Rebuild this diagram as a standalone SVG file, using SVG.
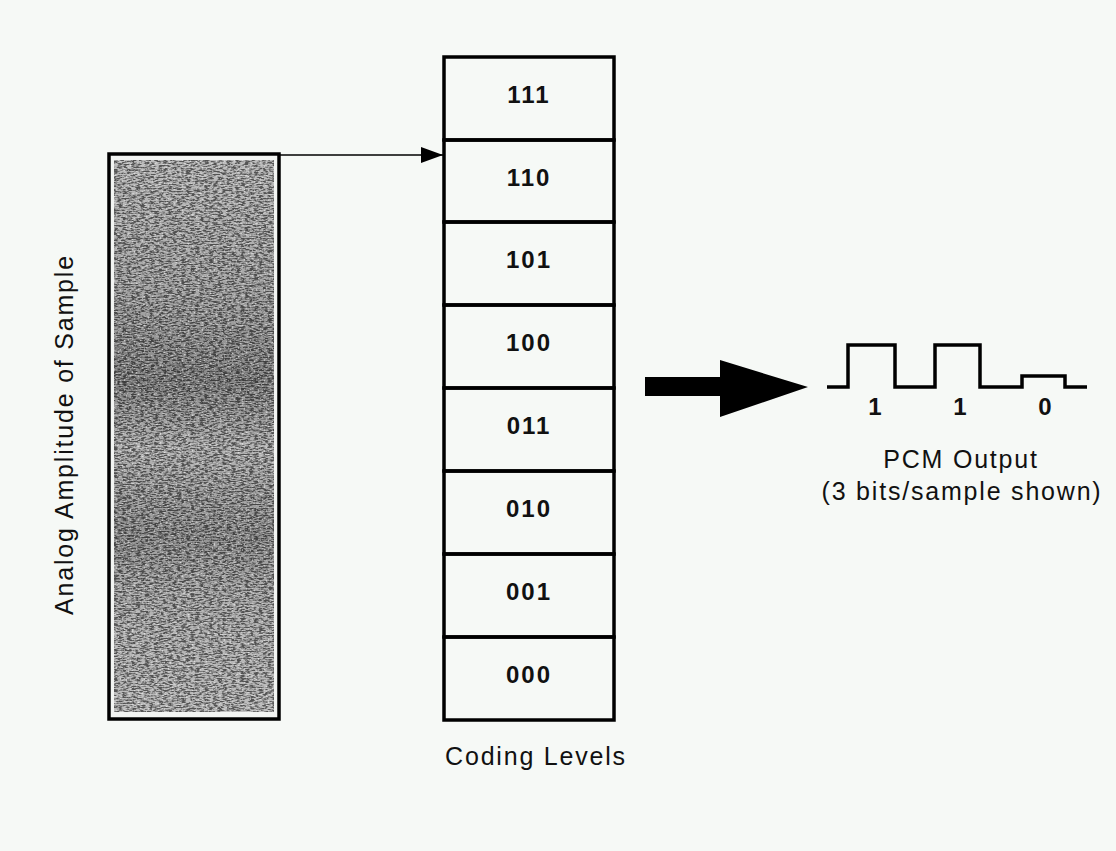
<svg xmlns="http://www.w3.org/2000/svg" width="1116" height="851" viewBox="0 0 1116 851">
  <style>
    .lbl { font-family: "Liberation Sans", Arial, sans-serif; font-size: 25px; fill: #111; letter-spacing: 1.8px; }
    .code { font-family: "Liberation Sans", Arial, sans-serif; font-size: 24px; font-weight: bold; fill: #111; letter-spacing: 2px; text-anchor: middle; }
    .row { fill: none; stroke: #000; stroke-width: 3.5; }
    .thin { fill: none; stroke: #000; stroke-width: 1.6; }
  </style>
  <defs>
    <marker id="arrowSmall" viewBox="0 0 22 16" refX="22" refY="8" markerWidth="22" markerHeight="16" markerUnits="userSpaceOnUse" orient="auto">
      <path d="M0 0 L22 8 L0 16 Z" fill="#000"/>
    </marker>
    <filter id="grain" x="0" y="0" width="100%" height="100%">
      <feTurbulence type="fractalNoise" baseFrequency="0.22 0.7" numOctaves="2" seed="7" result="n"/>
      <feColorMatrix in="n" type="matrix" values="0 0 0 0 0  0 0 0 0 0  0 0 0 0 0  0 0 0 -4 2.4" result="speck"/>
      <feComposite in="speck" in2="SourceGraphic" operator="in"/>
    </filter>
    <filter id="light" x="0" y="0" width="100%" height="100%">
      <feTurbulence type="fractalNoise" baseFrequency="0.5 0.9" numOctaves="1" seed="3" result="n"/>
      <feColorMatrix in="n" type="matrix" values="0 0 0 0 1  0 0 0 0 1  0 0 0 0 1  0 0 0 4 -2.2" result="speck"/>
      <feComposite in="speck" in2="SourceGraphic" operator="in"/>
    </filter>
    <linearGradient id="bands" x1="0" y1="0" x2="0" y2="1">
      <stop offset="0" stop-color="#000" stop-opacity="0"/>
      <stop offset="0.25" stop-color="#000" stop-opacity="0.12"/>
      <stop offset="0.40" stop-color="#000" stop-opacity="0.28"/>
      <stop offset="0.52" stop-color="#000" stop-opacity="0.04"/>
      <stop offset="0.68" stop-color="#000" stop-opacity="0.22"/>
      <stop offset="0.80" stop-color="#000" stop-opacity="0.06"/>
      <stop offset="1" stop-color="#000" stop-opacity="0"/>
    </linearGradient>
  </defs>
  <rect x="0" y="0" width="1116" height="851" fill="#f6f9f6"/>

  <g id="analog-sample">
    <rect x="111" y="156" width="166" height="561" fill="#f2f4f2"/>
    <rect x="114" y="160" width="160" height="552" fill="#bdbdbd"/>
    <rect x="114" y="160" width="160" height="552" fill="url(#bands)"/>
    <rect x="114" y="160" width="160" height="552" fill="#000" filter="url(#grain)" opacity="0.55"/>
    <rect x="114" y="160" width="160" height="552" fill="#fff" filter="url(#light)" opacity="0.6"/>
    <rect x="109" y="154" width="170" height="565" class="row"/>
    <text class="lbl" transform="translate(73,615) rotate(-90)">Analog Amplitude of Sample</text>
  </g>

  <g id="coding-levels">
    <g id="level-111"><rect class="row" x="444" y="57" width="170" height="83"/><text class="code" x="529" y="103">111</text></g>
    <g id="level-110"><rect class="row" x="444" y="140" width="170" height="82"/><text class="code" x="529" y="186">110</text></g>
    <g id="level-101"><rect class="row" x="444" y="222" width="170" height="83"/><text class="code" x="529" y="268">101</text></g>
    <g id="level-100"><rect class="row" x="444" y="305" width="170" height="83"/><text class="code" x="529" y="351">100</text></g>
    <g id="level-011"><rect class="row" x="444" y="388" width="170" height="83"/><text class="code" x="529" y="434">011</text></g>
    <g id="level-010"><rect class="row" x="444" y="471" width="170" height="83"/><text class="code" x="529" y="517">010</text></g>
    <g id="level-001"><rect class="row" x="444" y="554" width="170" height="83"/><text class="code" x="529" y="600">001</text></g>
    <g id="level-000"><rect class="row" x="444" y="637" width="170" height="83"/><text class="code" x="529" y="683">000</text></g>
    <text class="lbl" x="536" y="765" text-anchor="middle">Coding Levels</text>
  </g>

  <g id="pcm-output">
    <path class="row" d="M827 387 H848 V345 H895 V387 H935 V345 H980 V387 H1022 V376 H1065 V387 H1087"/>
    <text class="code" x="876" y="415">1</text>
    <text class="code" x="961" y="415">1</text>
    <text class="code" x="1046" y="415">0</text>
    <text class="lbl" x="961" y="468" text-anchor="middle">PCM Output</text>
    <text class="lbl" x="962" y="500" text-anchor="middle">(3 bits/sample shown)</text>
  </g>

  <g id="connectors">
    <line class="thin" x1="280" y1="155" x2="443" y2="155" marker-end="url(#arrowSmall)"/>
    <polygon points="645,377 720,377 720,360 808,387 720,417 720,396 645,396" fill="#000"/>
  </g>
</svg>
